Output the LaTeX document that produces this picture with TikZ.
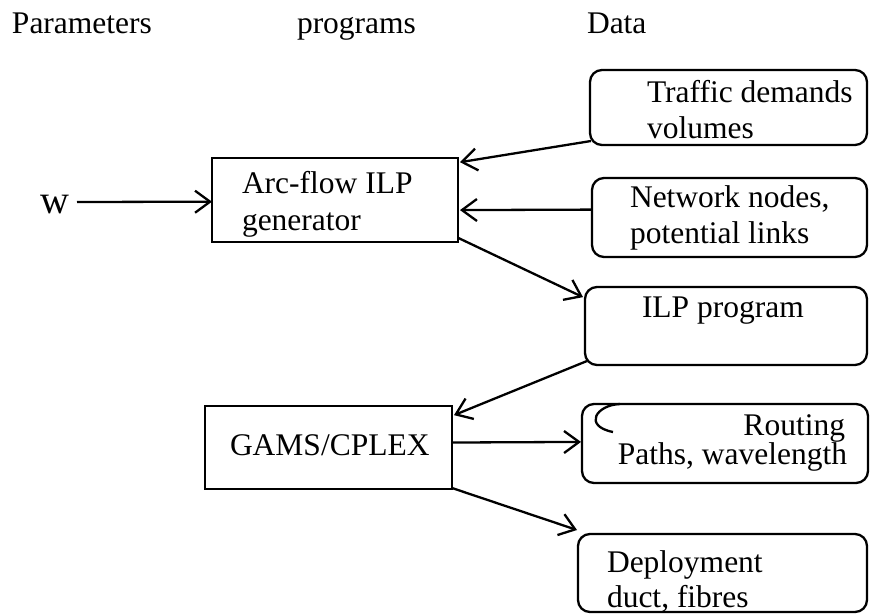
\documentclass[tikz,border=0pt]{standalone}
\usepackage{fontspec}
\setmainfont{Liberation Serif}
\usetikzlibrary{arrows.meta,calc}
\begin{document}
\begin{tikzpicture}[x=1pt,y=-1pt,
  every node/.style={inner sep=0pt,outer sep=0pt},
  txt/.style={font=\fontsize{31.5}{36}\selectfont,anchor=base west},
  txtr/.style={font=\fontsize{31.5}{36}\selectfont,anchor=base east},
  databox/.style={draw,line width=2.3pt,rounded corners=12pt,anchor=north west},
  progbox/.style={draw,line width=2.3pt,anchor=north west},
  conn/.style={line width=2.3pt,-{Straight Barb[length=15pt,width=22pt,line width=2.3pt]}}]
\useasboundingbox (0,0) rectangle (872,614);
% headers
\node[txt] (hpar) at (12,33) {Parameters};
\node[txt] (hprog) at (297,33) {programs};
\node[txt] (hdata) at (587,33) {Data};
% data boxes
\node[databox,minimum width=277pt,minimum height=75pt] (traffic) at (590,70) {};
\node[databox,minimum width=275pt,minimum height=79pt] (network) at (592,178) {};
\node[databox,minimum width=282pt,minimum height=78pt] (ilp) at (585,287) {};
\node[databox,minimum width=286pt,minimum height=79pt] (routing) at (582,404) {};
\node[databox,minimum width=289pt,minimum height=78pt] (deploy) at (578,534) {};
% program boxes
\node[progbox,minimum width=246pt,minimum height=84pt] (arc) at (212,158) {};
\node[progbox,minimum width=247pt,minimum height=83pt] (gams) at (205,406) {};
% texts
\node[txt] (t1) at (647,102) {Traffic demands};
\node[txt] (t2) at (647,138) {volumes};
\node[txt] (n1) at (630,207) {Network nodes,};
\node[txt] (n2) at (630,243) {potential links};
\node[txt] (i1) at (642,317) {ILP program};
\node[txtr] (r1) at (845,435) {Routing};
\node[txtr] (r2) at (847,464) {Paths, wavelength};
\node[txt] (d1) at (607,572) {Deployment};
\node[txt] (d2) at (607,607) {duct, fibres};
\node[txt] (a1) at (242,193) {Arc-flow ILP};
\node[txt] (a2) at (242,230) {generator};
\node[txt] (g1) at (230,455) {GAMS/CPLEX};
\node[font=\fontsize{40}{44}\selectfont,anchor=base west] (w) at (40,213) {w};
% stray arc in routing box
\draw[line width=2.3pt] (620,404) .. controls (596,405) and (583,426) .. (613,432);
% connectors
\coordinate (wend) at (77,202);
\draw[conn] (wend) -- ($(arc.north west)!0.52!(arc.south west)$);
\draw[conn] ($(traffic.south west)+(1,-4)$) -- ($(arc.north east)!0.05!(arc.south east)+(2,0)$);
\draw[conn] ($(network.north west)!0.4!(network.south west)$) -- ($(arc.north east)!0.62!(arc.south east)+(2,0)$);
\draw[conn] ($(arc.north east)!0.95!(arc.south east)$) -- ($(ilp.north west)!0.13!(ilp.south west)+(-2,0)$);
\draw[conn] ($(ilp.south west)+(2,-4)$) -- ($(gams.north east)!0.11!(gams.south east)+(2,0)$);
\draw[conn] ($(gams.north east)!0.44!(gams.south east)$) -- ($(routing.north west)!0.48!(routing.south west)+(-1,0)$);
\draw[conn] ($(gams.south east)+(0,-1)$) -- ($(deploy.north west)+(-1,-4)$);
\end{tikzpicture}
\end{document}
